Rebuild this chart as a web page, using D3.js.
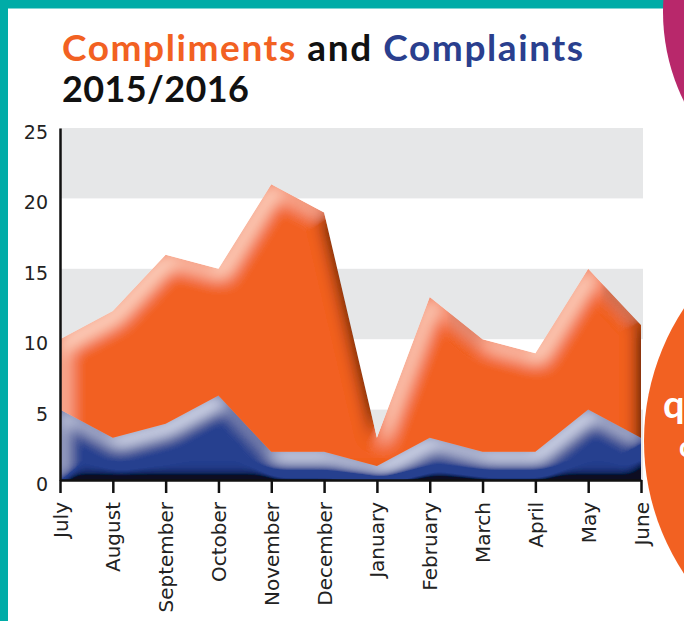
<!DOCTYPE html>
<html>
<head>
    <meta charset="utf-8">
    <title>Compliments and Complaints</title>
    <script src="https://cdn.jsdelivr.net/npm/d3@7/dist/d3.min.js"></script>
    <style>
        html, body { margin: 0; padding: 0; background: #fff; }
        svg.main { display: block; width: 684px; height: 621px; }
    </style>
</head>
<body>
<svg class="main" width="684" height="621"></svg>
<script>
    // data
    var months = ["July", "August", "September", "October", "November", "December",
        "January", "February", "March", "April", "May", "June"];
    var compliments = [10, 12, 16, 15, 21, 19, 3, 13, 10, 9, 15, 11];
    var complaints = [5, 3, 4, 6, 2, 2, 1, 3, 2, 2, 5, 3];
    var yTicks = [0, 5, 10, 15, 20, 25];
    var bands = [[0, 5], [10, 15], [20, 25]];

    var orange = "#f26122", blue = "#283f8f", teal = "#00aca7", magenta = "#b8286b";

    var svg = d3.select("svg");

    var x = d3.scalePoint().domain(months).range([60, 641]);
    var y = d3.scaleLinear().domain([0, 25]).range([480, 128]);

    // page decoration round the chart
    svg.append("rect").attr("x", 0).attr("y", 0).attr("width", 684).attr("height", 8.5).attr("fill", teal);
    svg.append("rect").attr("x", 0).attr("y", 0).attr("width", 8).attr("height", 621).attr("fill", teal);
    svg.append("circle").attr("cx", 864).attr("cy", 12).attr("r", 201).attr("fill", magenta);

    // soft bevel: inner light glow on edges facing the light (up / left),
    // inner dark shade on edges facing away (right / bottom)
    var defs = svg.append("defs");
    function bevel(id, sd, hiOff, hiK, hiCol, loOff, loK, loCol) {
        var f = defs.append("filter").attr("id", id).attr("filterUnits", "userSpaceOnUse")
            .attr("x", 0).attr("y", 0).attr("width", 684).attr("height", 621);
        f.append("feGaussianBlur").attr("in", "SourceAlpha").attr("stdDeviation", sd).attr("result", "b");
        f.append("feOffset").attr("in", "b").attr("dx", hiOff[0]).attr("dy", hiOff[1]).attr("result", "bh");
        f.append("feOffset").attr("in", "b").attr("dx", loOff[0]).attr("dy", loOff[1]).attr("result", "bl");
        f.append("feComposite").attr("in", "b").attr("in2", "bh").attr("operator", "arithmetic")
            .attr("k1", 0).attr("k2", hiK).attr("k3", -hiK).attr("k4", 0).attr("result", "ha");
        f.append("feComposite").attr("in", "bl").attr("in2", "b").attr("operator", "arithmetic")
            .attr("k1", 0).attr("k2", loK).attr("k3", -loK).attr("k4", 0).attr("result", "la");
        f.append("feFlood").attr("flood-color", hiCol).attr("result", "hf");
        f.append("feComposite").attr("in", "hf").attr("in2", "ha").attr("operator", "in").attr("result", "hi");
        f.append("feFlood").attr("flood-color", loCol).attr("result", "lf");
        f.append("feComposite").attr("in", "lf").attr("in2", "la").attr("operator", "in").attr("result", "lo");
        var m = f.append("feMerge").attr("result", "mg");
        m.append("feMergeNode").attr("in", "SourceGraphic");
        m.append("feMergeNode").attr("in", "lo");
        m.append("feMergeNode").attr("in", "hi");
        f.append("feComposite").attr("in", "mg").attr("in2", "SourceAlpha").attr("operator", "in");
    }
    bevel("bevelO", 9, [6, 9], 1.6, "#fdd9c6", [10, 5], 2.0, "#3a1204");
    bevel("bevelB", 8, [5, 9], 1.4, "#dfe4f4", [6, 24], 3.6, "#070b20");

    // title
    var t1 = svg.append("text").attr("x", 62).attr("y", 61)
        .style("font-family", "Lato, 'Open Sans', sans-serif").style("font-weight", 700).style("font-size", "37px")
        .attr("textLength", 521).attr("lengthAdjust", "spacing");
    t1.append("tspan").attr("fill", orange).text("Compliments");
    t1.append("tspan").attr("fill", "#111").text(" and ");
    t1.append("tspan").attr("fill", "#2a3f8e").text("Complaints");

    svg.append("text").attr("x", 62).attr("y", 102)
        .style("font-family", "Lato, 'Open Sans', sans-serif").style("font-weight", 700).style("font-size", "36px")
        .attr("fill", "#111").attr("textLength", 187).attr("lengthAdjust", "spacing")
        .text("2015/2016");

    // grey bands
    svg.selectAll("rect.band").data(bands).enter().append("rect")
        .attr("class", "band")
        .attr("x", x(months[0]))
        .attr("y", function (d) { return y(d[1]); })
        .attr("width", x(months[months.length - 1]) - x(months[0]) + 2)
        .attr("height", function (d) { return y(d[0]) - y(d[1]); })
        .attr("fill", "#e6e7e8");

    // areas
    var area = d3.area()
        .x(function (d, i) { return x(months[i]); })
        .y0(y(0))
        .y1(function (d) { return y(d); });

    svg.append("path").datum(compliments)
        .attr("d", area).attr("fill", orange).attr("filter", "url(#bevelO)");
    svg.append("path").datum(complaints)
        .attr("d", area).attr("fill", blue).attr("filter", "url(#bevelB)");

    // axes
    var yAxis = svg.append("g").attr("transform", "translate(" + x(months[0]) + ",0)")
        .call(d3.axisLeft(y).tickValues(yTicks).tickSize(0).tickPadding(12));
    yAxis.select(".domain").attr("stroke", "#111").attr("stroke-width", 2.5);
    yAxis.selectAll("text")
        .attr("dy", "0.55em")
        .style("font-family", "'DejaVu Sans', sans-serif").style("font-size", "19px").attr("fill", "#222");

    var xAxis = svg.append("g").attr("transform", "translate(0," + y(0) + ")")
        .call(d3.axisBottom(x).tickSize(13).tickSizeOuter(0));
    xAxis.select(".domain").attr("stroke", "#111").attr("stroke-width", 2.5);
    xAxis.selectAll(".tick line").attr("stroke", "#111").attr("stroke-width", 2.5);
    xAxis.selectAll("text")
        .attr("transform", "rotate(-90)")
        .attr("x", -22).attr("y", 0).attr("dy", "0.35em")
        .attr("text-anchor", "end")
        .style("font-family", "'DejaVu Sans', sans-serif").style("font-size", "20px").attr("fill", "#222");

    // orange circle at the right edge
    svg.append("circle").attr("cx", 884).attr("cy", 441).attr("r", 240).attr("fill", orange);
    svg.append("text").attr("x", 663).attr("y", 418)
        .style("font-family", "Lato, sans-serif").style("font-weight", 700).style("font-size", "38px")
        .attr("fill", "#fff").text("q");
    svg.append("text").attr("x", 679).attr("y", 457)
        .style("font-family", "Lato, sans-serif").style("font-weight", 700).style("font-size", "28px")
        .attr("fill", "#fff").text("c");
</script>
</body>
</html>
